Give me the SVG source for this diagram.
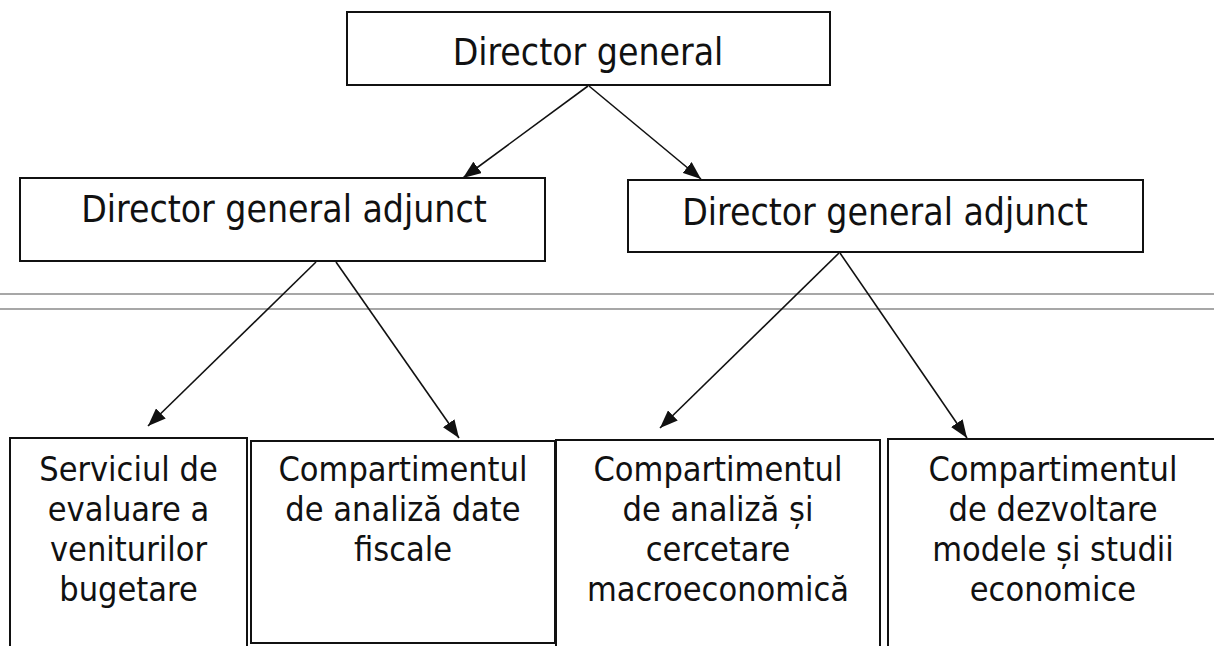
<svg xmlns="http://www.w3.org/2000/svg" width="1214" height="646" viewBox="0 0 1214 646">
<style>
.box{fill:#fff;stroke:#111;stroke-width:2}
.t{font-family:'DejaVu Sans Condensed','DejaVu Sans',sans-serif;font-stretch:condensed;fill:#111;text-anchor:middle}
.big{font-size:37px}
.small{font-size:34px}
.con{stroke:#111;stroke-width:1.6;fill:none}
.rule{stroke:#8a8a8a;stroke-width:1.5}
</style>
<defs>
<marker id="arr" markerUnits="userSpaceOnUse" markerWidth="20" markerHeight="14" refX="18" refY="7" orient="auto">
<path d="M0,0 L18,7 L0,14 z" fill="#111"/>
</marker>
</defs>
<rect width="1214" height="646" fill="#fff"/>
<g id="rules">
<line class="rule" x1="0" y1="294" x2="1214" y2="294"/>
<line class="rule" x1="0" y1="309" x2="1214" y2="309"/>
</g>
<g id="n-director">
<rect class="box" x="347" y="12" width="483" height="73"/>
<text class="t big" x="588" y="65">Director general</text>
</g>
<g id="n-adj-left">
<rect class="box" x="20" y="178" width="525" height="83"/>
<text class="t big" x="284" y="222">Director general adjunct</text>
</g>
<g id="n-adj-right">
<rect class="box" x="628" y="180" width="515" height="72"/>
<text class="t big" x="885" y="225">Director general adjunct</text>
</g>
<g id="n-serviciul">
<rect class="box" x="10" y="438" width="237" height="220"/>
<text class="t small" x="128.5" y="481">Serviciul de</text>
<text class="t small" x="128.5" y="521">evaluare a</text>
<text class="t small" x="128.5" y="561">veniturilor</text>
<text class="t small" x="128.5" y="601">bugetare</text>
</g>
<g id="n-fiscale">
<rect class="box" x="251" y="441" width="304" height="202"/>
<text class="t small" x="403" y="481">Compartimentul</text>
<text class="t small" x="403" y="521">de analiză date</text>
<text class="t small" x="403" y="561">fiscale</text>
</g>
<g id="n-macro">
<rect class="box" x="556" y="440" width="324" height="220"/>
<text class="t small" x="718" y="481">Compartimentul</text>
<text class="t small" x="718" y="521">de analiză și</text>
<text class="t small" x="718" y="561">cercetare</text>
<text class="t small" x="718" y="601">macroeconomică</text>
</g>
<g id="n-modele">
<rect class="box" x="888" y="439" width="332" height="220"/>
<text class="t small" x="1053" y="481">Compartimentul</text>
<text class="t small" x="1053" y="521">de dezvoltare</text>
<text class="t small" x="1053" y="561">modele și studii</text>
<text class="t small" x="1053" y="601">economice</text>
</g>
<g id="connectors">
<line class="con" x1="588" y1="86" x2="463" y2="178" marker-end="url(#arr)"/>
<line class="con" x1="589" y1="86" x2="701" y2="179" marker-end="url(#arr)"/>
<line class="con" x1="316" y1="262" x2="148" y2="426" marker-end="url(#arr)"/>
<line class="con" x1="336" y1="262" x2="459" y2="438" marker-end="url(#arr)"/>
<line class="con" x1="839" y1="253" x2="660" y2="428" marker-end="url(#arr)"/>
<line class="con" x1="840" y1="253" x2="967" y2="438" marker-end="url(#arr)"/>
</g>
</svg>
